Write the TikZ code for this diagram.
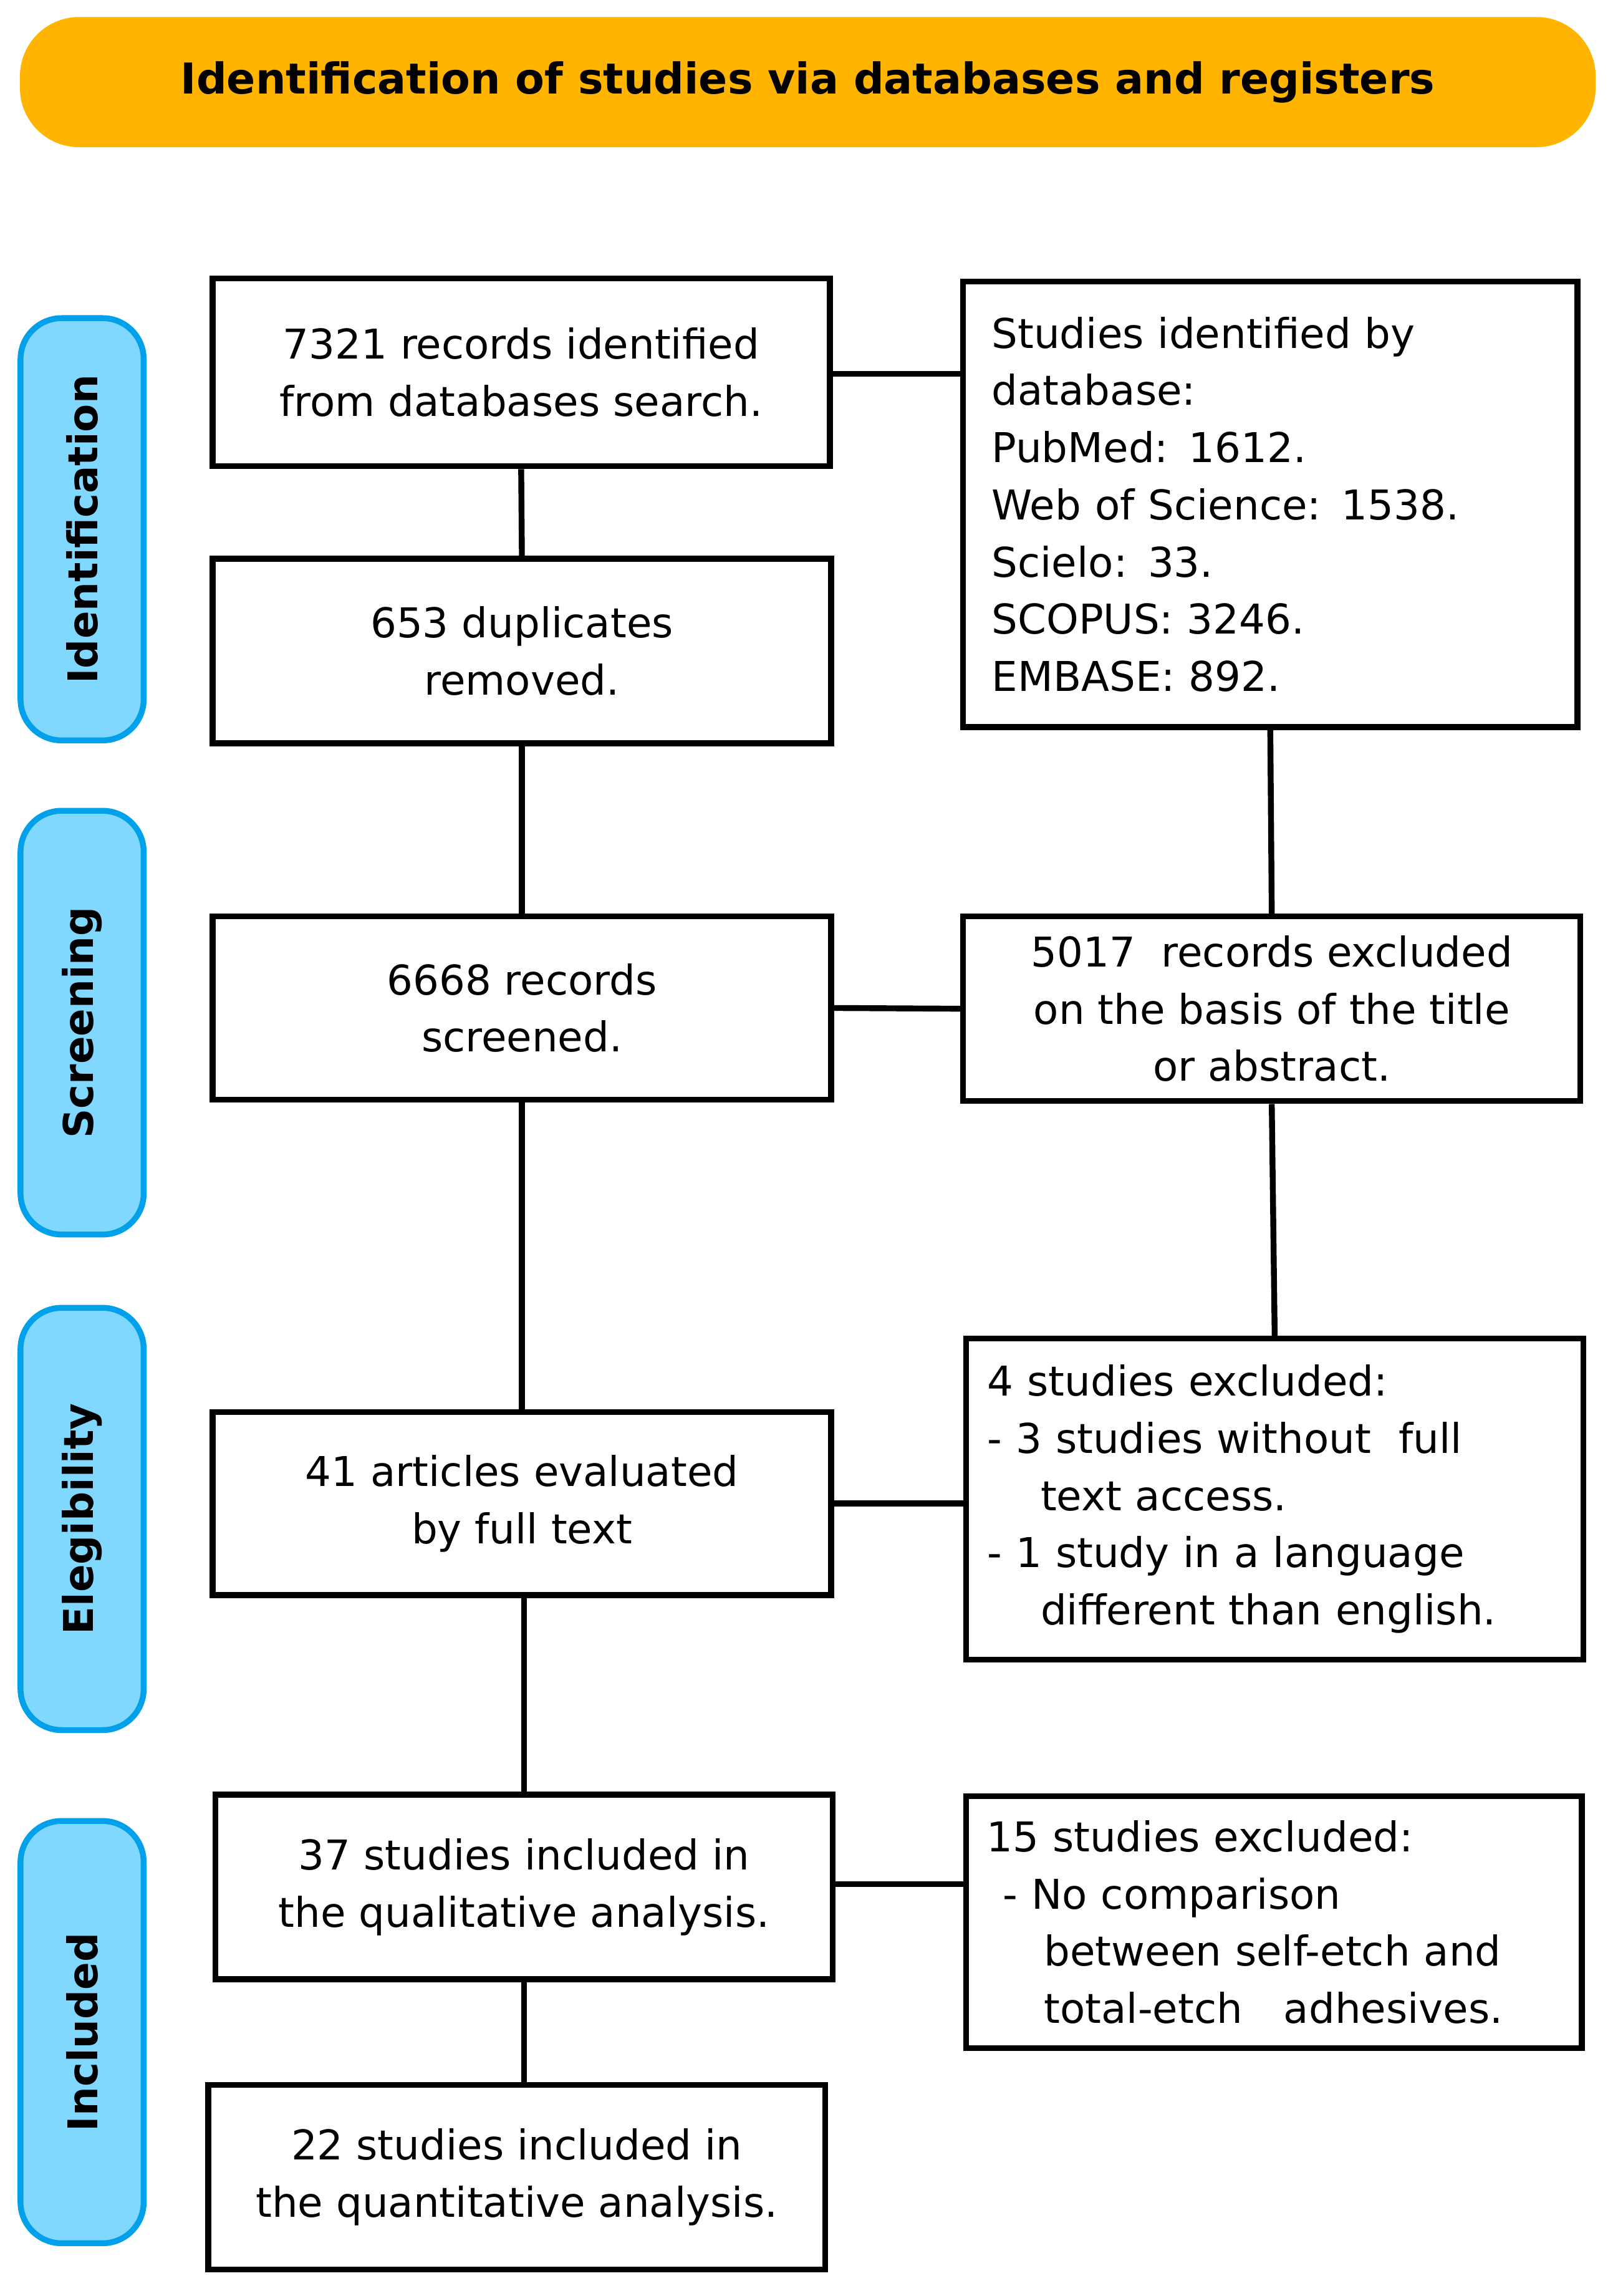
\documentclass[tikz,border=0pt]{standalone}
\usepackage{fontspec}
\setmainfont{DejaVu Sans}
\begin{document}
\begin{tikzpicture}[x=0.5pt,y=-0.5pt,
 box/.style={draw=black,line width=2pt,inner sep=0pt,font=\fontsize{14}{19.5}\selectfont},
 side/.style={draw={rgb,255:red,0;green,160;blue,235},fill={rgb,255:red,128;green,216;blue,255},line width=2pt,rounded corners=14pt,inner sep=0pt},
 lab/.style={rotate=90,font=\bfseries\fontsize{14}{17}\selectfont},
 ln/.style={line width=2pt}]
\useasboundingbox (0,0) rectangle (1100,1566);
\def\bx#1#2#3#4#5#6{\node[box,minimum width=#4*0.5pt-#2*0.5pt,minimum height=#5*0.5pt-#3*0.5pt,align=center] (#1) at ({(#2+#4)/2},{(#3+#5)/2}) {#6};}
\node[fill={rgb,255:red,255;green,180;blue,0},draw={rgb,255:red,255;green,180;blue,0},rounded corners=20pt,minimum width=537pt,minimum height=44pt,font=\bfseries\fontsize{14.5}{17}\selectfont] (T) at (551,56) {Identification of studies via databases and registers};
\foreach \n/\a/\b/\t in {s1/217/505/Identification,s2/553/842/Screening,s3/892/1180/Elegibility,s4/1242/1530/Included}{
 \node[side,minimum width=42pt,minimum height={(\b-\a)*0.5pt}] (\n) at (56,{(\a+\b)/2}) {};
 \node[lab] (\n t) at (56,{(\a+\b)/2}) {\t};}
\bx{A}{145}{190}{566}{318}{7321 records identified\\from databases search.}
\node[box,minimum width=209.5pt,minimum height=152pt,align=left,text width=190pt] (B) at (866.5,344) {Studies identified by\\database:\\PubMed: 1612.\\Web of Science: 1538.\\Scielo: 33.\\SCOPUS: 3246.\\EMBASE: 892.};
\bx{C}{145}{381}{567}{507}{653 duplicates\\removed.}
\bx{D}{145}{625}{567}{750}{6668 records\\screened.}
\bx{E}{657}{625}{1078}{751}{5017\ \ records excluded\\on the basis of the title\\or abstract.}
\bx{F}{145}{963}{567}{1088}{41 articles evaluated\\by full text}
\node[box,minimum width=210.5pt,minimum height=109.5pt,align=left,text width=196pt] (G) at (869.5,1022.5) {4 studies excluded:\\- 3 studies without\ \ full\\\hspace*{1.3em}text access.\\- 1 study in a language\\\hspace*{1.3em}different than english.};
\bx{H}{147}{1224}{568}{1350}{37 studies included in\\the qualitative analysis.}
\node[box,minimum width=210pt,minimum height=86pt,align=left,text width=196pt] (I) at (869,1311) {15 studies excluded:\\\hspace*{0.4em}- No comparison\\\hspace*{1.4em}between self-etch and\\\hspace*{1.4em}total-etch\ \ \ adhesives.};
\bx{J}{142}{1422}{563}{1548}{22 studies included in\\the quantitative analysis.}
\draw[ln] (A.east |- 0,255) -- (B.west |- 0,255);
\draw[ln] (A.south) -- (C.north);
\draw[ln] (C.south) -- (D.north);
\draw[ln] (B.south) -- (E.north);
\draw[ln] (D.east) -- (E.west);
\draw[ln] (D.south) -- (F.north);
\draw[ln] (E.south) -- (G.north);
\draw[ln] (F.east) -- (F.east -| G.west);
\draw[ln] (H.south |- F.south) -- (H.north);
\draw[ln] (H.east |- 0,1285) -- (I.west |- 0,1285);
\draw[ln] (H.south) -- (H.south |- J.north);
\end{tikzpicture}
\end{document}
